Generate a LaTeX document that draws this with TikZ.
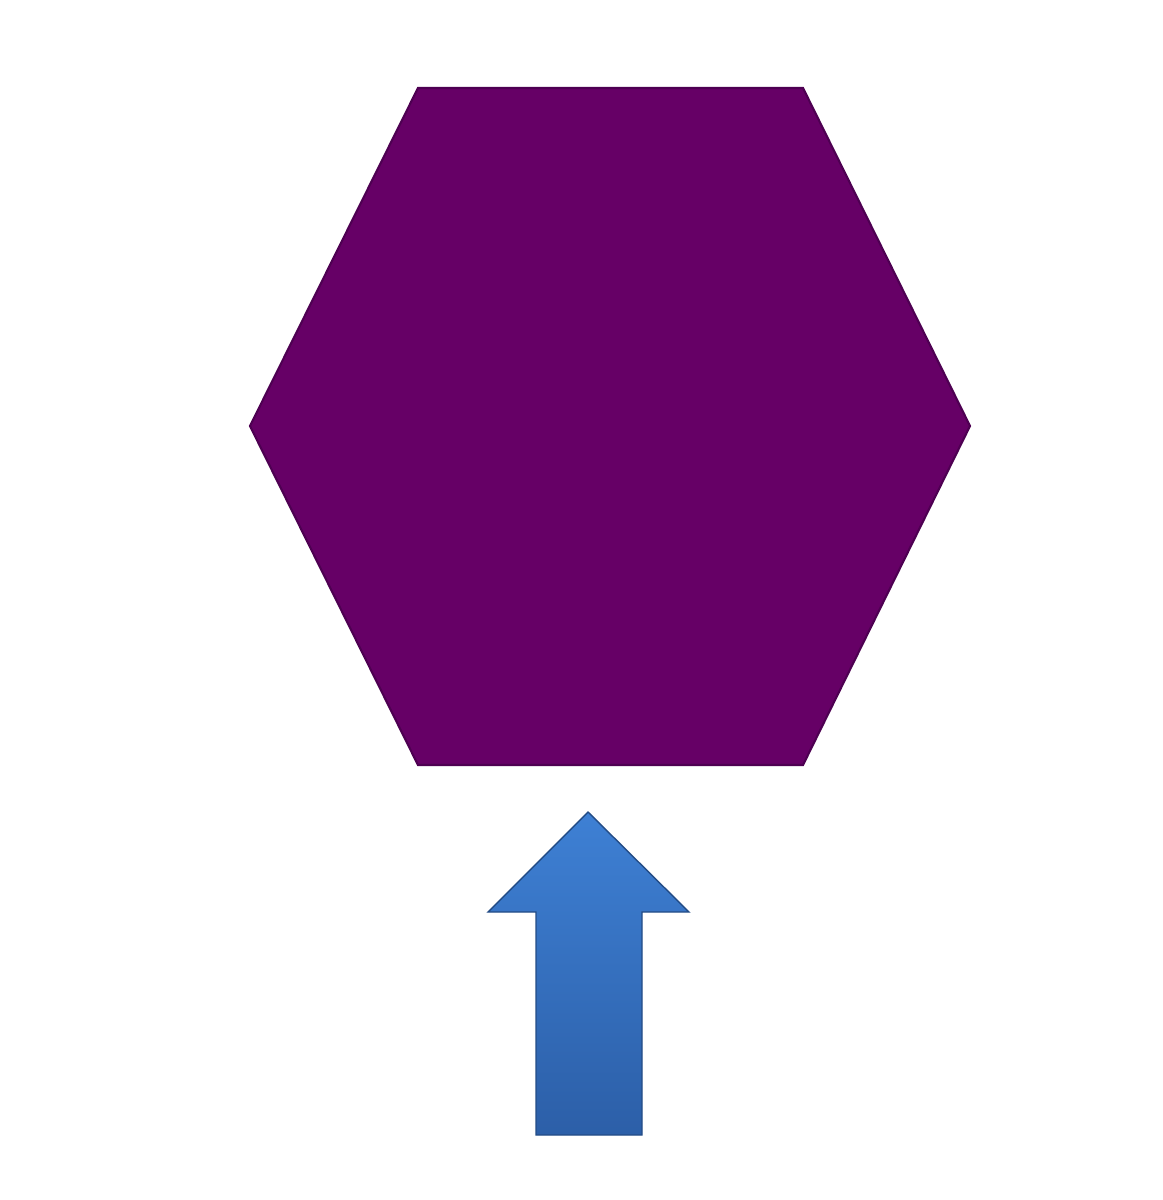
\documentclass[tikz,border=0pt]{standalone}
\usepackage{tikz}
\definecolor{hexpurple}{HTML}{660066}
\definecolor{hexedge}{HTML}{4E0052}
\definecolor{arrowtop}{HTML}{3E80D4}
\definecolor{arrowbottom}{HTML}{2C5FA8}

\begin{document}
\begin{tikzpicture}[x=0.01cm,y=-0.01cm]
\def\hexagon{(418,88) -- (803,88) -- (970,426) -- (803,765) -- (418,765) -- (250,426) -- cycle}
\def\uparrow{(588,812) -- (689,912) -- (642,912) -- (642,1135) -- (536,1135) -- (536,912) -- (488,912) -- cycle}
\useasboundingbox (0,0) rectangle (1162,1200);
\fill[white] (0,0) rectangle (1162,1200);
\fill[hexpurple, draw=hexedge, line width=0.6pt] \hexagon;
\shade[top color=arrowtop, bottom color=arrowbottom, draw=arrowbottom!80!black, line width=0.4pt] \uparrow;
\end{tikzpicture}
\end{document}
